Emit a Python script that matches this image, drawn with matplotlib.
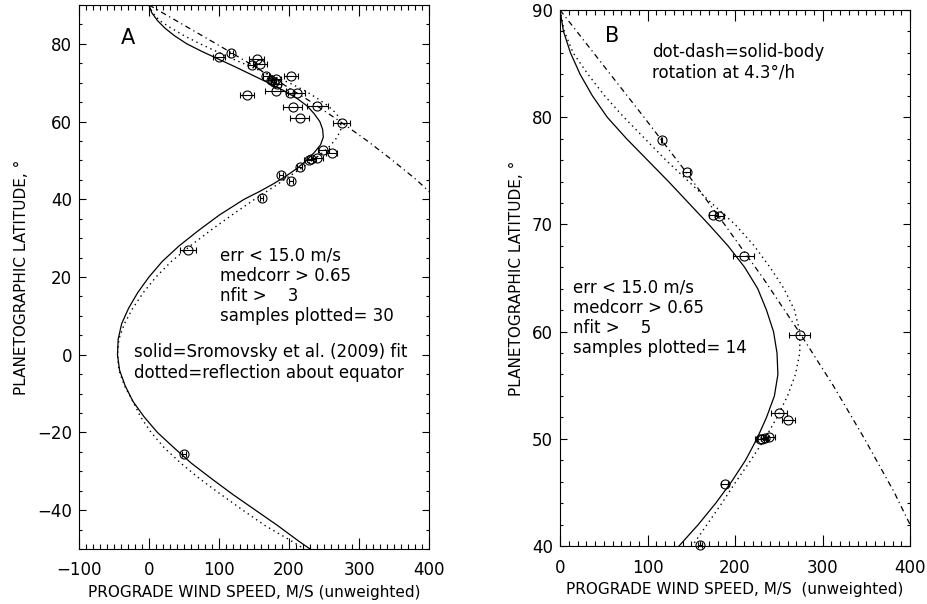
import matplotlib
matplotlib.use('Agg')
import matplotlib.pyplot as plt
from matplotlib.ticker import MultipleLocator


# Sromovsky et al. (2009) fit
fit_lat = [90, 88, 86, 84, 82, 80, 78, 76, 74, 72, 70, 68, 66, 64, 62, 60, 58, 56, 54, 52,
           50, 48, 46, 44, 42, 40, 36, 32, 28, 24, 20, 16, 12, 8, 4, 0,
           -4, -8, -12, -16, -20, -24, -28, -32, -36, -40, -44, -48, -50]
fit_u = [0, 4, 12, 23, 37, 54, 76, 100, 124, 147, 170, 192, 211, 226, 236, 244, 248, 249, 245, 236,
         225, 212, 196, 178, 158, 136, 101, 71, 43, 19, 0, -16, -29, -39, -44, -45,
         -42, -34, -23, -7, 12, 36, 61, 90, 120, 152, 184, 214, 230]

# reflection about the equator
refl_lat = [90, 88, 86, 84, 82, 80, 78, 76, 74, 72, 70, 68, 66, 64, 62, 60, 58, 56, 54, 52,
            50, 48, 46, 44, 42, 40, 36, 32, 28, 24, 20, 16, 12, 8, 4, 0,
            -4, -8, -12, -16, -20, -24, -28, -32, -36, -40, -44, -48, -50]
refl_u = [0, 5, 15, 32, 51, 73, 97, 121, 147, 173, 200, 222, 240, 256, 268, 274, 274, 269, 260, 248,
          234, 218, 201, 185, 168, 151, 119, 88, 59, 32, 10, -8, -23, -35, -43, -45,
          -43, -35, -23, -12, 3, 22, 46, 73, 103, 134, 166, 204, 222]

# solid-body rotation at 4.3 deg/h (dot-dash)
rot_lat = [90, 85, 80, 75, 70, 65, 60, 55, 50, 45, 40]
rot_u = [0, 48, 96, 143, 188, 232, 273, 312, 348, 382, 412]

# panel A samples (nfit > 3)
a_u = [100, 117, 154, 147, 159, 167, 174, 182, 183, 203, 181, 140, 201, 211, 205,
       240, 215, 275, 249, 261, 240, 232, 228, 215, 189, 203, 161, 56, 50, 178]
a_lat = [76.7, 77.7, 76.1, 74.6, 74.8, 71.6, 70.7, 70.9, 69.6, 71.6, 67.9, 66.7, 67.3, 67.3, 63.8,
         64.0, 60.8, 59.7, 52.7, 52.0, 50.5, 50.3, 50.1, 48.2, 46.3, 44.8, 40.3, 27.0, -25.6, 70.2]
a_err = [9, 3, 11, 5, 10, 4, 4, 6, 5, 10, 15, 10, 6, 12, 14,
         15, 14, 12, 8, 8, 8, 6, 6, 4, 3, 3, 2, 11, 3, 4]

# panel B samples (nfit > 5)
b_u = [116, 145, 175, 182, 210, 274, 250, 261, 239, 231, 228, 234, 188, 160]
b_lat = [77.9, 74.9, 70.9, 70.8, 67.1, 59.7, 52.4, 51.8, 50.2, 50.0, 50.0, 50.1, 45.8, 40.1]
b_err = [1, 4, 5, 5, 12, 12, 9, 7, 7, 6, 5, 4, 4, 2]

stats_a = ['err < 15.0 m/s', 'medcorr > 0.65', 'nfit >    3', 'samples plotted= 30']
stats_b = ['err < 15.0 m/s', 'medcorr > 0.65', 'nfit >    5', 'samples plotted= 14']
legend_a = ['solid=Sromovsky et al. (2009) fit', 'dotted=reflection about equator']
legend_b = ['dot-dash=solid-body', 'rotation at 4.3\u00b0/h']

plt.rcParams['font.family'] = 'DejaVu Sans'
plt.rcParams['lines.scale_dashes'] = False

DOTTED = (0, (1.0, 2.7))
DASHDOT = (0, (4.0, 2.6, 0.9, 2.6))


def style_axes(ax, xmaj, xmin, ymaj, ymin, xlen, ylen):
    """IDL-like box: inward ticks on all four sides, minor ticks half length."""
    ax.xaxis.set_major_locator(MultipleLocator(xmaj))
    ax.xaxis.set_minor_locator(MultipleLocator(xmin))
    ax.yaxis.set_major_locator(MultipleLocator(ymaj))
    ax.yaxis.set_minor_locator(MultipleLocator(ymin))
    ax.tick_params(axis='x', which='major', direction='in', length=xlen, width=0.8,
                   top=True, bottom=True, labelsize=12, pad=9)
    ax.tick_params(axis='x', which='minor', direction='in', length=xlen / 2, width=0.8,
                   top=True, bottom=True)
    ax.tick_params(axis='y', which='major', direction='in', length=ylen, width=0.8,
                   left=True, right=True, labelsize=12, pad=5)
    ax.tick_params(axis='y', which='minor', direction='in', length=ylen / 2, width=0.8,
                   left=True, right=True)
    for spine in ax.spines.values():
        spine.set_linewidth(0.8)


def plot_samples(ax, u, lat, err):
    ax.errorbar(u, lat, xerr=err, fmt='o', ms=6.5, mfc='none', mec='k', mew=0.8,
                ecolor='k', elinewidth=0.8, capsize=2.5, capthick=0.8, clip_on=False)


def main():
    fig = plt.figure(figsize=(9.27, 6.04), dpi=100)

    # panel A
    ax = fig.add_axes([0.0852, 0.0911, 0.3776, 0.9007])
    ax.plot(fit_u, fit_lat, color='k', lw=0.9)
    ax.plot(refl_u, refl_lat, color='k', lw=1.0, linestyle=DOTTED)
    ax.plot(rot_u, rot_lat, color='k', lw=0.9, linestyle=DASHDOT)
    plot_samples(ax, a_u, a_lat, a_err)
    ax.set_xlim(-100, 400)
    ax.set_ylim(-50, 90)
    style_axes(ax, 100, 10, 20, 5, 7.9, 5.0)
    ax.set_xlabel('PROGRADE WIND SPEED, M/S (unweighted)', fontsize=11, labelpad=4)
    ax.set_ylabel('PLANETOGRAPHIC LATITUDE, \u00b0', fontsize=11, labelpad=6)
    ax.text(-30, 81.5, 'A', fontsize=15, ha='center', va='center')
    ax.text(101, 17.7, '\n'.join(stats_a), fontsize=12, ha='left', va='center', linespacing=1.16)
    ax.text(-22, -2.0, '\n'.join(legend_a), fontsize=12, ha='left', va='center', linespacing=1.16)

    # panel B
    ax = fig.add_axes([0.6041, 0.0960, 0.3776, 0.8874])
    ax.plot(fit_u, fit_lat, color='k', lw=0.9)
    ax.plot(refl_u, refl_lat, color='k', lw=1.0, linestyle=DOTTED)
    ax.plot(rot_u, rot_lat, color='k', lw=0.9, linestyle=DASHDOT)
    plot_samples(ax, b_u, b_lat, b_err)
    ax.set_xlim(0, 400)
    ax.set_ylim(40, 90)
    style_axes(ax, 100, 10, 10, 2, 7.7, 5.0)
    ax.set_xlabel('PROGRADE WIND SPEED, M/S  (unweighted)', fontsize=11, labelpad=4)
    ax.set_ylabel('PLANETOGRAPHIC LATITUDE, \u00b0', fontsize=11, labelpad=6)
    ax.text(59, 87.6, 'B', fontsize=15, ha='center', va='center')
    ax.text(105, 85.1, '\n'.join(legend_b), fontsize=12, ha='left', va='center', linespacing=1.16)
    ax.text(15, 61.3, '\n'.join(stats_b), fontsize=12, ha='left', va='center', linespacing=1.16)

    fig.savefig('out.png', dpi=100)


if __name__ == '__main__':
    main()
